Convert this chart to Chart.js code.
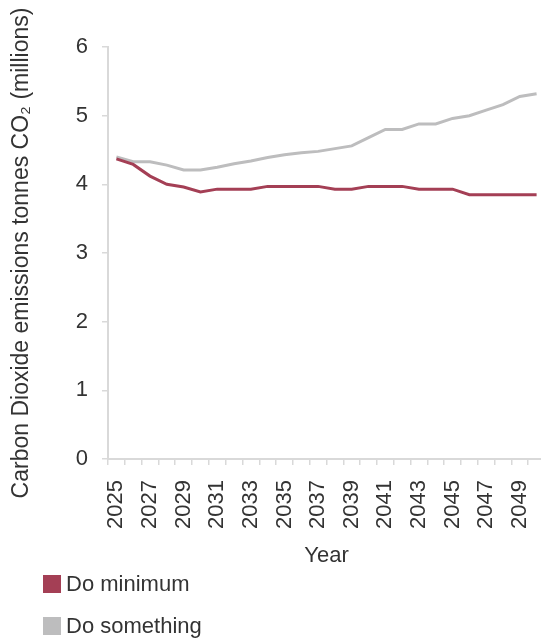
<!DOCTYPE html>
<html>
<head>
<meta charset="utf-8">
<script src="https://cdn.jsdelivr.net/npm/chart.js@4.4.1/dist/chart.umd.min.js"></script>
<style>
  html, body { margin: 0; padding: 0; background: #fff; overflow: hidden; }
  body { width: 541px; height: 642px; position: relative; }
  #wrap { position: absolute; left: 0; top: 0; width: 545px; height: 572px; }
  #legend { position: absolute; left: 43px; top: 575px; font-family: "Liberation Sans", Arial, sans-serif; font-size: 22px; color: #333; }
  .item { position: absolute; left: 0; height: 18px; white-space: nowrap; }
  .box { position: absolute; left: 0; top: 0; width: 18px; height: 18px; }
  .lbl { position: absolute; left: 23px; top: -4px; line-height: 26px; }
</style>
</head>
<body>
<div id="wrap"><canvas id="chart"></canvas></div>
<div id="legend"></div>
<script>
// Carbon dioxide emissions by year, two scenarios (millions of tonnes CO2)
const years = [2025, 2026, 2027, 2028, 2029, 2030, 2031, 2032, 2033, 2034, 2035, 2036, 2037,
               2038, 2039, 2040, 2041, 2042, 2043, 2044, 2045, 2046, 2047, 2048, 2049, 2050];
const doMinimum = [4.37, 4.29, 4.12, 4.00, 3.96, 3.89, 3.93, 3.93, 3.93, 3.97, 3.97, 3.97, 3.97,
                   3.93, 3.93, 3.97, 3.97, 3.97, 3.93, 3.93, 3.93, 3.85, 3.85, 3.85, 3.85, 3.85];
const doSomething = [4.40, 4.33, 4.33, 4.28, 4.21, 4.21, 4.25, 4.30, 4.34, 4.39, 4.43, 4.46, 4.48,
                     4.52, 4.56, 4.68, 4.80, 4.80, 4.88, 4.88, 4.96, 5.00, 5.08, 5.16, 5.28, 5.32];
const seriesNames = ["Do minimum", "Do something"];
const yTicks = [0, 1, 2, 3, 4, 5, 6];

const FONT = "'Liberation Sans', Arial, sans-serif";
const TEXT = "#333333";
const AXIS = "#d9d9d9";

const chart = new Chart(document.getElementById("chart"), {
  type: "line",
  data: {
    labels: years.map(String),
    datasets: [
      { label: seriesNames[0], data: doMinimum, borderColor: "#a43f55", backgroundColor: "#a43f55",
        borderWidth: 3, pointRadius: 0, tension: 0 },
      { label: seriesNames[1], data: doSomething, borderColor: "#bdbdbe", backgroundColor: "#bdbdbe",
        borderWidth: 3, pointRadius: 0, tension: 0 }
    ]
  },
  options: {
    responsive: true,
    maintainAspectRatio: false,
    animation: false,
    layout: { padding: { top: 47, right: 0, bottom: 2, left: 0 } },
    plugins: { legend: { display: false }, tooltip: { enabled: false } },
    scales: {
      x: {
        type: "category",
        offset: true,
        grid: { display: true, offset: true, drawOnChartArea: false, tickLength: 6, color: AXIS, lineWidth: 1.5 },
        border: { display: true, color: AXIS, width: 2 },
        ticks: {
          autoSkip: false, minRotation: 90, maxRotation: 90, padding: 15,
          color: TEXT, font: { family: FONT, size: 22 },
          callback: function (v, i) { return i % 2 === 0 ? this.getLabelForValue(v) : ""; }
        },
        title: { display: true, text: "Year", color: TEXT, font: { family: FONT, size: 22 }, padding: { top: 0, bottom: 1 } },
        afterFit: s => { s.height = 111; s.paddingLeft = 0; s.paddingRight = 0; }
      },
      y: {
        min: yTicks[0], max: yTicks[yTicks.length - 1],
        afterBuildTicks: s => { s.ticks = yTicks.map(v => ({ value: v })); },
        grid: { display: true, drawOnChartArea: false, tickLength: 6, color: AXIS, lineWidth: 1.5 },
        border: { display: true, color: AXIS, width: 2 },
        ticks: { padding: 14, color: TEXT, font: { family: FONT, size: 22 } },
        title: { display: true, text: "Carbon Dioxide emissions tonnes CO\u2082 (millions)", color: TEXT,
                 font: { family: FONT, size: 23 }, padding: { top: 8, bottom: 0 } },
        afterFit: s => { s.width = 108; }
      }
    }
  }
});

// Vertical legend built from the chart's datasets
const legend = document.getElementById("legend");
chart.data.datasets.forEach((ds, i) => {
  const item = document.createElement("div");
  item.className = "item";
  item.style.top = (i * 42) + "px";
  const box = document.createElement("span");
  box.className = "box";
  box.style.background = ds.backgroundColor;
  const lbl = document.createElement("span");
  lbl.className = "lbl";
  lbl.textContent = ds.label;
  item.appendChild(box);
  item.appendChild(lbl);
  legend.appendChild(item);
});
</script>
</body>
</html>
